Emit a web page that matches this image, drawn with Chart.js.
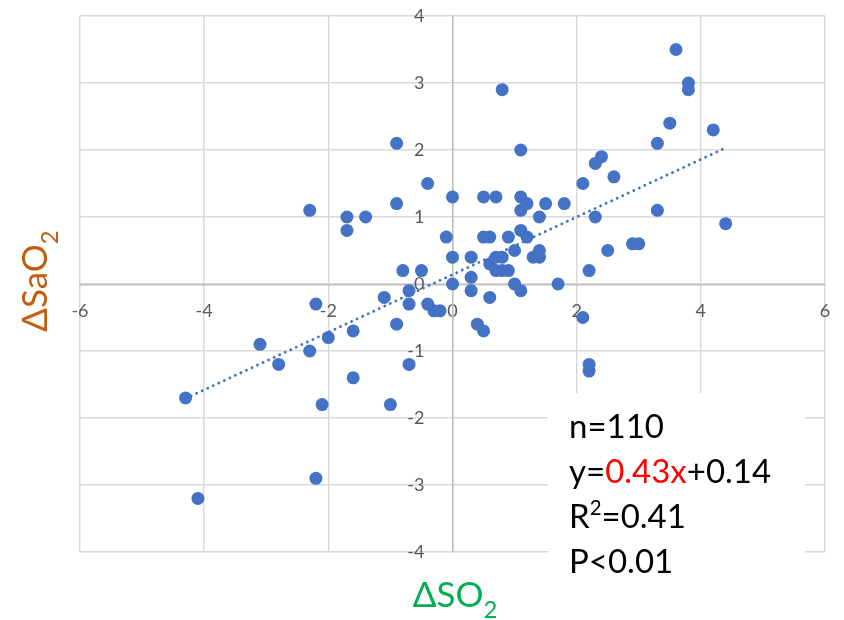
<!DOCTYPE html>
<html>
<head>
<meta charset="utf-8">
<script src="https://cdn.jsdelivr.net/npm/chart.js@4.4.0/dist/chart.umd.min.js"></script>
<style>
  html, body { margin: 0; padding: 0; background: #ffffff; }
  #holder { width: 844px; height: 620px; }
</style>
</head>
<body>
<div id="holder"><canvas id="scatter_chart"></canvas></div>
<script>
// values, one pair per patient
const delta_so2 = [-4.3, -4.1, -3.1, -2.8, -2.3, -2.3, -2.2, -2.2, -2.1, -2.0,
    -1.7, -1.7, -1.6, -1.6, -1.4, -1.1, -1.0, -0.9, -0.9, -0.9,
    -0.8, -0.7, -0.7, -0.7, -0.5, -0.4, -0.4, -0.3, -0.2, -0.1,
    0, 0, 0, 0.3, 0.3, 0.3, 0.4, 0.5, 0.5, 0.5,
    0.6, 0.6, 0.6, 0.7, 0.7, 0.8, 0.7, 0.8, 0.9, 0.8,
    0.9, 1.0, 1.0, 1.1, 1.1, 1.1, 1.1, 1.1, 1.2, 1.2,
    1.3, 1.4, 1.4, 1.4, 1.5, 1.7, 1.8, 2.1, 2.1, 2.2,
    2.2, 2.2, 2.3, 2.3, 2.4, 2.5, 2.6, 2.9, 3.0, 3.3,
    3.3, 3.5, 3.6, 3.8, 3.8, 4.2, 4.4]
const delta_sao2 = [-1.7, -3.2, -0.9, -1.2, -1.0, 1.1, -0.3, -2.9, -1.8, -0.8,
    1.0, 0.8, -0.7, -1.4, 1.0, -0.2, -1.8, 2.1, 1.2, -0.6,
    0.2, -0.1, -0.3, -1.2, 0.2, 1.5, -0.3, -0.4, -0.4, 0.7,
    1.3, 0.4, 0, 0.4, 0.1, -0.1, -0.6, -0.7, 1.3, 0.7,
    0.7, 0.3, -0.2, 1.3, 0.4, 0.4, 0.2, 0.2, 0.2, 2.9,
    0.7, 0.5, 0.0, -0.1, 2.0, 1.3, 1.1, 0.8, 1.2, 0.7,
    0.4, 0.4, 0.5, 1.0, 1.2, 0.0, 1.2, 1.5, -0.5, 0.2,
    -1.2, -1.3, 1.8, 1.0, 1.9, 0.5, 1.6, 0.6, 0.6, 2.1,
    1.1, 2.4, 3.5, 3.0, 2.9, 2.3, 0.9]

// regression shown in the box
const trend_slope = 0.43
const trend_intercept = 0.14
const trend_x_range = [-4.3, 4.4]
const stat_n = 110
const stat_r2 = 0.41
const stat_p = '<0.01'

const x_limits = [-6, 6]
const y_limits = [-4, 4]

const x_title = ['ΔSO', '2']
const y_title = ['ΔSaO', '2']

const blue = '#4472C4'
const grid_grey = '#D9D9D9'
const tick_grey = '#595959'
const font_name = 'Lato, Carlito, "Open Sans", sans-serif'

points = []
for (let i = 0; i < delta_so2.length; i++) {
    points.push({x: delta_so2[i], y: delta_sao2[i]})
}

trend_points = trend_x_range.map(function (x) {
    return {x: x, y: trend_slope * x + trend_intercept}
})

// draws a list of text runs one after another, sub/superscripts smaller
function draw_runs(ctx, x, y, runs, size) {
    runs.forEach(function (run) {
        let s = size
        let dy = 0
        if (run.sup) { s = size * 0.62; dy = -size * 0.38 }
        if (run.sub) { s = size * 0.68; dy = size * 0.3 }
        ctx.font = s + 'px ' + font_name
        ctx.fillStyle = run.color || '#000000'
        ctx.fillText(run.text, x, y + dy)
        x += ctx.measureText(run.text).width
    })
}

function runs_width(ctx, runs, size) {
    let w = 0
    runs.forEach(function (run) {
        let s = size
        if (run.sup) s = size * 0.62
        if (run.sub) s = size * 0.68
        ctx.font = s + 'px ' + font_name
        w += ctx.measureText(run.text).width
    })
    return w
}

const text_plugin = {
    id: 'text_plugin',
    afterDraw(chart) {
        const ctx = chart.ctx
        ctx.save()
        ctx.textBaseline = 'alphabetic'
        ctx.textAlign = 'left'

        // white box over the grid with the stats
        ctx.fillStyle = '#ffffff'
        ctx.fillRect(548, 393, 257, 227)

        stat_lines = [
            [{text: 'n=' + stat_n}],
            [{text: 'y='}, {text: trend_slope + 'x', color: '#FF0000'}, {text: '+' + trend_intercept}],
            [{text: 'R'}, {text: '2', sup: true}, {text: '=' + stat_r2}],
            [{text: 'P' + stat_p}]
        ]
        stat_lines.forEach(function (line, i) {
            draw_runs(ctx, 569, 438 + i * 45, line, 33)
        })

        // x axis title, green
        let xr = [{text: x_title[0], color: '#00B050'}, {text: x_title[1], sub: true, color: '#00B050'}]
        let xw = runs_width(ctx, xr, 35)
        draw_runs(ctx, 455 - xw / 2, 607, xr, 35)

        // y axis title, orange, turned on its side
        let yr = [{text: y_title[0], color: '#C55A11'}, {text: y_title[1], sub: true, color: '#C55A11'}]
        let yw = runs_width(ctx, yr, 35)
        ctx.translate(47, 281)
        ctx.rotate(-Math.PI / 2)
        draw_runs(ctx, -yw / 2, 0, yr, 35)

        ctx.restore()
    }
}

// the centred axes should not eat any room from the plot
function no_room(scale) {
    if (scale.isHorizontal()) scale.height = 0
    else scale.width = 0
    scale.paddingTop = 0
    scale.paddingBottom = 0
    scale.paddingLeft = 0
    scale.paddingRight = 0
}

var ctx = document.getElementById('scatter_chart').getContext('2d')
myChart = new Chart(ctx, {
    type: 'scatter',
    data: {
        datasets: [
            {
                label: 'trend',
                type: 'line',
                data: trend_points,
                order: 0,
                showLine: true,
                fill: false,
                pointRadius: 0,
                borderColor: blue,
                borderWidth: 2.8,
                borderDash: [0.1, 6],
                borderCapStyle: 'round',
            },
            {
                label: 'ΔSaO2',
                data: points,
                order: 1,
                pointRadius: 6.5,
                pointHoverRadius: 6.5,
                backgroundColor: blue,
                borderColor: blue,
                borderWidth: 0,
            }
        ]
    },
    options: {
        responsive: true,
        maintainAspectRatio: false,
        animation: false,
        layout: {
            padding: {left: 80, right: 19, top: 16, bottom: 68}
        },
        scales: {
            x: {
                type: 'linear',
                position: 'center',
                min: x_limits[0],
                max: x_limits[1],
                ticks: {
                    stepSize: 2,
                    color: tick_grey,
                    padding: 16,
                    font: {family: font_name, size: 18}
                },
                grid: {color: grid_grey, lineWidth: 1.5, drawTicks: false},
                border: {color: '#BFBFBF', width: 1.5},
                afterFit: no_room
            },
            y: {
                type: 'linear',
                position: 'center',
                min: y_limits[0],
                max: y_limits[1],
                ticks: {
                    stepSize: 1,
                    color: tick_grey,
                    padding: 28,
                    font: {family: font_name, size: 18}
                },
                grid: {color: grid_grey, lineWidth: 1.5, drawTicks: false},
                border: {color: '#BFBFBF', width: 1.5},
                afterFit: no_room
            }
        },
        plugins: {
            legend: {display: false},
            tooltip: {enabled: false}
        }
    },
    plugins: [text_plugin]
})
</script>
</body>
</html>
